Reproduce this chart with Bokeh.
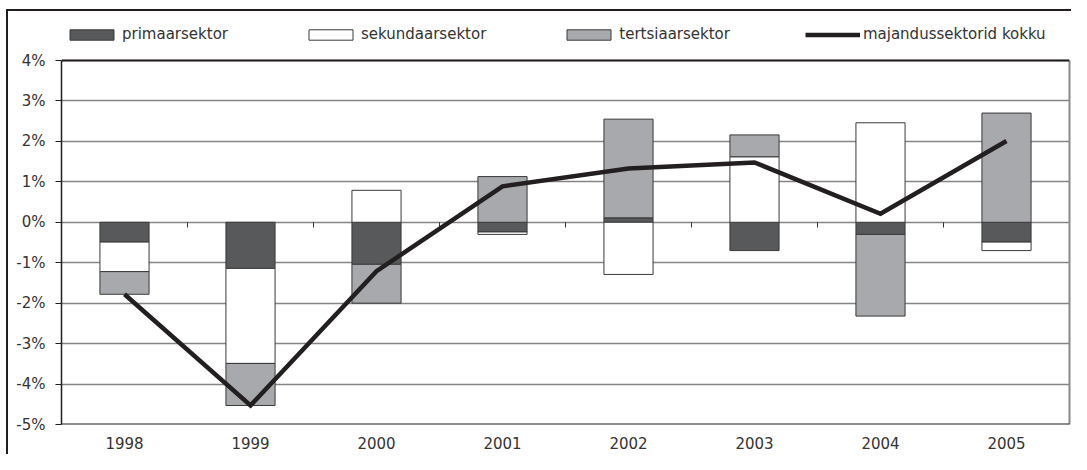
import numpy as np
from bokeh.plotting import figure
from bokeh.models import (Range1d, FixedTicker, Legend, LegendItem, Span, LinearAxis)
from bokeh.embed import file_html
from bokeh.resources import INLINE

# ---- data ----
years = ["1998", "1999", "2000", "2001", "2002", "2003", "2004", "2005"]
primaarsektor = [-0.49, -1.14, -1.04, -0.24, 0.11, -0.70, -0.30, -0.49]
sekundaarsektor = [-0.73, -2.35, 0.79, -0.06, -1.29, 1.62, 2.46, -0.21]
tertsiaarsektor = [-0.56, -1.04, -0.96, 1.13, 2.44, 0.54, -2.02, 2.70]
kokku = [-1.78, -4.53, -1.21, 0.89, 1.33, 1.48, 0.21, 2.01]
y_ticks = [-5, -4, -3, -2, -1, 0, 1, 2, 3, 4]
y_tick_labels = ["-5%", "-4%", "-3%", "-2%", "-1%", "0%", "1%", "2%", "3%", "4%"]
series_names = ["primaarsektor", "sekundaarsektor", "tertsiaarsektor", "majandussektorid kokku"]

FONT = "DejaVu Sans"
TXT = "#333333"

# ---- layout (pixels) ----
W, H = 1071, 454
LEFT, RIGHT, BOTTOM = 61, 2, 30
TOP_PAD = 60            # space between canvas top and the 4% line (legend lives here)
frame_h = H - BOTTOM
y_lo, y_hi = y_ticks[0], y_ticks[-1]
y_end = y_hi + (y_hi - y_lo) * TOP_PAD / (frame_h - TOP_PAD)

n = len(years)
xc = np.arange(n) + 0.5

p = figure(width=W, height=H, x_range=Range1d(0, n), y_range=Range1d(y_lo, y_end),
           output_backend="svg", toolbar_location=None,
           min_border_left=LEFT, min_border_right=RIGHT, min_border_top=0, min_border_bottom=BOTTOM,
           outline_line_color=None, background_fill_alpha=0, border_fill_alpha=0)
p.styles = {
    "background-color": "white",
    "background-image": "linear-gradient(#231f20, #231f20), linear-gradient(#231f20, #231f20)",
    "background-size": "2px 100%, 100% 2px",
    "background-position": "6px 9px, 6px 9px",
    "background-repeat": "no-repeat",
}

# grid
p.xgrid.visible = False
p.ygrid.ticker = FixedTicker(ticks=y_ticks)
p.ygrid.grid_line_color = "#858585"
p.ygrid.grid_line_width = 1.5

# y axis
p.yaxis.ticker = FixedTicker(ticks=y_ticks)
p.yaxis.bounds = (y_lo, y_hi)
p.yaxis.major_label_overrides = {t: l for t, l in zip(y_ticks, y_tick_labels)}
p.yaxis.axis_line_color = "#231f20"
p.yaxis.axis_line_width = 1.5
p.yaxis.major_tick_line_color = "#231f20"
p.yaxis.major_tick_out = 6
p.yaxis.major_tick_in = 0
p.yaxis.minor_tick_line_color = None
p.yaxis.major_label_standoff = 10
p.yaxis.major_label_text_font = FONT
p.yaxis.major_label_text_font_size = "15px"
p.yaxis.major_label_text_color = TXT

# right border as a bare axis line
ra = LinearAxis(bounds=(y_lo, y_hi), ticker=FixedTicker(ticks=[]), axis_line_color="#8a8a8a",
                axis_line_width=2, major_tick_line_color=None, minor_tick_line_color=None,
                major_label_text_font_size="0px")
p.add_layout(ra, "right")

# x axis (labels only)
p.xaxis.ticker = FixedTicker(ticks=list(xc))
p.xaxis.major_label_overrides = {float(x): y for x, y in zip(xc, years)}
p.xaxis.axis_line_color = None
p.xaxis.major_tick_line_color = None
p.xaxis.minor_tick_line_color = None
p.xaxis.major_tick_out = 0
p.xaxis.major_tick_in = 0
p.xaxis.major_label_standoff = 12
p.xaxis.major_label_text_font = FONT
p.xaxis.major_label_text_font_size = "15px"
p.xaxis.major_label_text_color = TXT

# category boundary ticks on the zero line
bounds = np.arange(n + 1)
p.segment(x0=bounds, y0=np.zeros(n + 1), x1=bounds, y1=np.full(n + 1, -0.13),
          line_color="#333333", line_width=1)

# stacked bars (positive and negative stacked separately)
pos_base = np.zeros(n)
neg_base = np.zeros(n)
fills = ["#58595b", "#ffffff", "#a7a9ac"]
renderers = []
for vals, fc in zip([primaarsektor, sekundaarsektor, tertsiaarsektor], fills):
    v = np.array(vals)
    bottom = np.where(v >= 0, pos_base, neg_base)
    top = bottom + v
    pos_base = np.where(v >= 0, top, pos_base)
    neg_base = np.where(v < 0, top, neg_base)
    r = p.vbar(x=xc, width=0.39, bottom=bottom, top=top, fill_color=fc,
               line_color="#3a3a3a", line_width=1)
    renderers.append(r)

lr = p.line(xc, kokku, line_color="#231f20", line_width=4.5, line_join="miter")
renderers.append(lr)

# frame top / bottom edges
p.add_layout(Span(location=y_hi, dimension="width", line_color="#231f20", line_width=2))
p.add_layout(Span(location=y_lo, dimension="width", line_color="#231f20", line_width=2))

legend = Legend(items=[LegendItem(label=nm, renderers=[r]) for nm, r in zip(series_names, renderers)],
                orientation="horizontal", location=(3, frame_h - 43),
                glyph_width=55, glyph_height=13, label_standoff=3, spacing=75,
                padding=0, margin=0, border_line_color=None, background_fill_alpha=0,
                label_text_font=FONT, label_text_font_size="15px", label_text_color=TXT)
p.add_layout(legend, "center")

open("out.html", "w").write(file_html(p, INLINE))
